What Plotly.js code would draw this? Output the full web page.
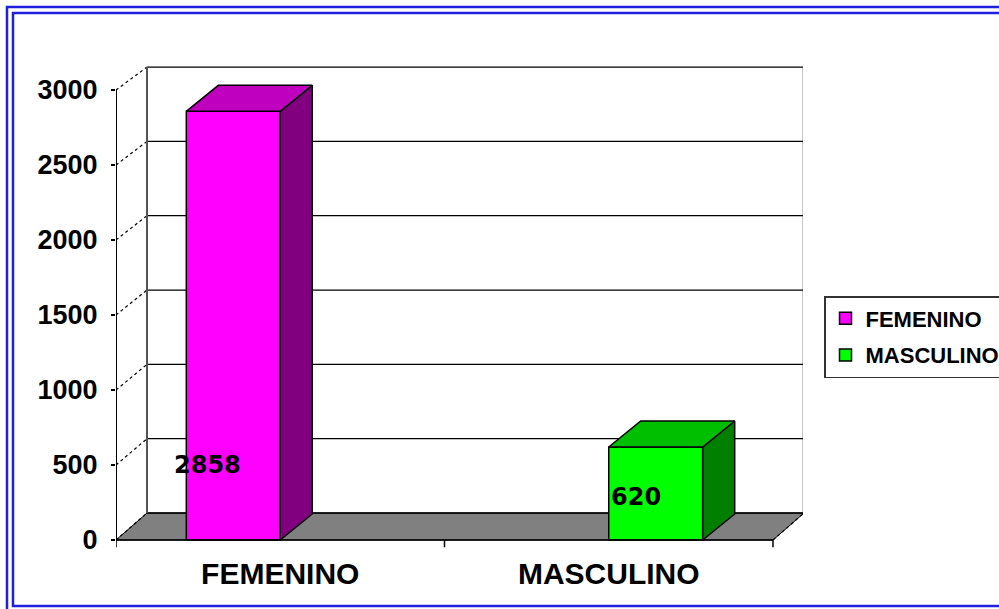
<!DOCTYPE html>
<html><head><meta charset="utf-8">
<script src="https://cdn.plot.ly/plotly-3.0.1.min.js"></script>
<style>html,body{margin:0;padding:0;background:#fff}#chart{width:999px;height:609px}</style>
</head><body><div id="chart"></div>
<script>
// ---- data ----
const categories = ["FEMENINO", "MASCULINO"];
const seriesNames = ["FEMENINO", "MASCULINO"];
const femeninoValues = [2858, null];
const masculinoValues = [null, 620];
const yTickValues = [0, 500, 1000, 1500, 2000, 2500, 3000];
const yTickLabels = ["0", "500", "1000", "1500", "2000", "2500", "3000"];

// ---- geometry / style ----
const PL = 116, PR = 803, PT = 60, PB = 548, Y0PX = 540;
const PX_PER_CAT = 328.5, PX_PER_UNIT = 0.15;
const xMin = -0.5, xMax = xMin + (PR - PL) / PX_PER_CAT;
const yMin = -(PB - Y0PX) / PX_PER_UNIT, yMax = (Y0PX - PT) / PX_PER_UNIT;
const DXU = 31 / PX_PER_CAT, DYU = 27 / PX_PER_UNIT;      // wall depth
const BDXU = 32 / PX_PER_CAT, BDYU = 26 / PX_PER_UNIT;    // bar depth
const BACK_K = 0.991;
const BARGAP = 0.428;
const nCat = categories.length;
const xFrontR = nCat - 0.5;
const xBackL = xMin + DXU, xBackR = xFrontR + DXU;
const backY = v => DYU + v * BACK_K;
const px2x = p => (p - PL) / (PR - PL);
const py2y = p => (PB - p) / (PB - PT);

const frontColors = ["#FF00FF", "#00FF00"];
const topColors = ["#BF00BF", "#00BF00"];
const sideColors = ["#800080", "#007F00"];
const FONT = "Liberation Sans, Arial, sans-serif";

const allSeries = [femeninoValues, masculinoValues];
const nSer = allSeries.length;
const barW = (1 - BARGAP) / nSer;

const traces = [];
allSeries.forEach((vals, i) => {
  traces.push({
    type: "bar", name: seriesNames[i], x: categories.map((c, j) => j), y: vals,
    marker: {color: frontColors[i], line: {color: "#000", width: 1.5}},
    legendgroup: "g" + i, hoverinfo: "skip"
  });
});
allSeries.forEach((vals, i) => {
  vals.forEach((v, j) => {
    if (v === null || v === undefined) return;
    const c = j - (1 - BARGAP) / 2 + barW * (i + 0.5);
    const xl = c - barW / 2, xr = c + barW / 2;
    traces.push({type: "scatter", mode: "lines", fill: "toself", fillcolor: sideColors[i],
      x: [xr, xr + BDXU, xr + BDXU, xr, xr], y: [0, BDYU, v + BDYU, v, 0],
      line: {color: "#000", width: 1.5}, showlegend: false, hoverinfo: "skip"});
    traces.push({type: "scatter", mode: "lines", fill: "toself", fillcolor: topColors[i],
      x: [xl, xl + BDXU, xr + BDXU, xr, xl], y: [v, v + BDYU, v + BDYU, v, v],
      line: {color: "#000", width: 1.5}, showlegend: false, hoverinfo: "skip"});
  });
});

const shapes = [];
// floor
shapes.push({type: "path", layer: "below", xref: "x", yref: "y",
  path: `M${xMin},0 L${xBackL},${DYU} L${xBackR},${DYU} L${xFrontR},0 Z`,
  fillcolor: "#808080", line: {color: "#000", width: 1}});
// back wall gridlines and frame
yTickValues.forEach(v => {
  shapes.push({type: "line", layer: "below", xref: "x", yref: "y",
    x0: xBackL, x1: xBackR, y0: backY(v), y1: backY(v), line: {color: "#000", width: 1.3}});
  shapes.push({type: "line", layer: "below", xref: "x", yref: "y",
    x0: xMin, x1: xBackL, y0: v, y1: backY(v), line: {color: "#000", width: 1.2, dash: "dot"}});
});
const wallTop = backY(yTickValues[yTickValues.length - 1]);
shapes.push({type: "line", layer: "below", xref: "x", yref: "y", x0: xBackL, x1: xBackL, y0: DYU, y1: wallTop, line: {color: "#555", width: 2}});
shapes.push({type: "line", layer: "below", xref: "x", yref: "y", x0: xBackR, x1: xBackR, y0: DYU, y1: wallTop, line: {color: "#222", width: 2.5}});
shapes.push({type: "line", layer: "below", xref: "x", yref: "y", x0: xFrontR, x1: xBackR, y0: 0, y1: DYU, line: {color: "#000", width: 1.2, dash: "dot"}});
// front axes
shapes.push({type: "line", layer: "above", xref: "x", yref: "y", x0: xMin, x1: xMin, y0: 0, y1: yTickValues[yTickValues.length - 1], line: {color: "#000", width: 2}});
shapes.push({type: "line", layer: "above", xref: "x", yref: "y", x0: xMin, x1: xFrontR, y0: 0, y1: 0, line: {color: "#000", width: 1.5}});
for (let k = 0; k <= nCat; k++) {
  shapes.push({type: "line", layer: "above", xref: "x", yref: "y", x0: xMin + k, x1: xMin + k, y0: 0, y1: yMin + 5, line: {color: "#000", width: 1.5}});
}
// blue double frame
const blue = "#1F1FE0";
shapes.push({type: "rect", xref: "paper", yref: "paper", x0: px2x(7), x1: px2x(1012), y0: py2y(7), y1: py2y(620), line: {color: blue, width: 2.5}, fillcolor: "rgba(0,0,0,0)"});
shapes.push({type: "rect", xref: "paper", yref: "paper", x0: px2x(13), x1: px2x(1006), y0: py2y(13), y1: py2y(606), line: {color: blue, width: 2.5}, fillcolor: "rgba(0,0,0,0)"});

const annotations = [
  {x: 0 - (1 - BARGAP) / 2 + barW * 0.5, y: 500, xshift: -26, text: String(femeninoValues[0]), showarrow: false,
   font: {family: "DejaVu Sans, sans-serif", size: 24, weight: "bold", color: "#000"}},
  {x: 1 - (1 - BARGAP) / 2 + barW * 1.5, y: 287, xshift: -20, text: String(masculinoValues[1]), showarrow: false,
   font: {family: "DejaVu Sans, sans-serif", size: 24, weight: "bold", color: "#000"}}
];

const layout = {
  width: 999, height: 609,
  margin: {l: PL, r: 999 - PR, t: PT, b: 609 - PB, autoexpand: false},
  paper_bgcolor: "#fff", plot_bgcolor: "#fff",
  barmode: "group", bargap: BARGAP, bargroupgap: 0,
  showlegend: true,
  xaxis: {range: [xMin, xMax], tickvals: categories.map((c, j) => j), ticktext: categories,
    ticks: "", showgrid: false, zeroline: false, showline: false, ticklabelstandoff: 5,
    tickfont: {family: FONT, size: 30, weight: "bold", color: "#000"}, fixedrange: true},
  yaxis: {range: [yMin, yMax], tickvals: yTickValues, ticktext: yTickLabels,
    ticks: "outside", ticklen: 4, tickwidth: 1.5, tickcolor: "#000", showgrid: false, zeroline: false, showline: false,
    ticklabelstandoff: 8, tickfont: {family: FONT, size: 27, weight: "bold", color: "#000"}, fixedrange: true},
  legend: {x: px2x(824), y: py2y(296), xanchor: "left", yanchor: "top", bgcolor: "#fff",
    bordercolor: "#333", borderwidth: 1.5, font: {family: FONT, size: 22, weight: "bold", color: "#000"},
    traceorder: "grouped", tracegroupgap: 5},
  shapes: shapes, annotations: annotations
};

Plotly.newPlot("chart", traces, layout, {displayModeBar: false, staticPlot: true});
</script></body></html>
